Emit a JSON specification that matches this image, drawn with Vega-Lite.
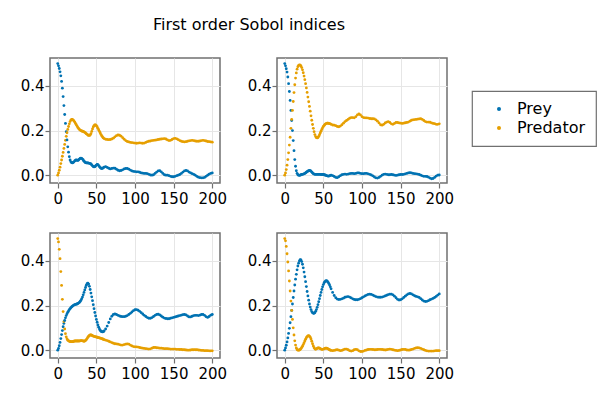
{
"$schema": "https://vega.github.io/schema/vega-lite/v6.json",
"padding": {"left": 19, "top": 17, "right": 5, "bottom": 5},
"title": {"text": "First order Sobol indices", "fontSize": 16, "font": "DejaVu Sans", "fontWeight": "normal", "color": "#000", "anchor": "middle", "dx": -59, "offset": 24},
"data": {"values": [
{"p":1,"t":0,"Prey":0.5,"Predator":0},{"p":1,"t":1,"Prey":0.49,"Predator":0.01},{"p":1,"t":2,"Prey":0.478,"Predator":0.022},{"p":1,"t":3,"Prey":0.463,"Predator":0.036},{"p":1,"t":4,"Prey":0.445,"Predator":0.052},{"p":1,"t":5,"Prey":0.42,"Predator":0.068},{"p":1,"t":6,"Prey":0.39,"Predator":0.085},{"p":1,"t":7,"Prey":0.352,"Predator":0.102},{"p":1,"t":8,"Prey":0.312,"Predator":0.12},{"p":1,"t":9,"Prey":0.272,"Predator":0.138},{"p":1,"t":10,"Prey":0.232,"Predator":0.156},{"p":1,"t":11,"Prey":0.195,"Predator":0.174},{"p":1,"t":12,"Prey":0.158,"Predator":0.19},{"p":1,"t":13,"Prey":0.127,"Predator":0.205},{"p":1,"t":14,"Prey":0.103,"Predator":0.218},{"p":1,"t":15,"Prey":0.083,"Predator":0.23},{"p":1,"t":16,"Prey":0.068,"Predator":0.24},{"p":1,"t":17,"Prey":0.06,"Predator":0.247},{"p":1,"t":18,"Prey":0.056,"Predator":0.25},{"p":1,"t":19,"Prey":0.055,"Predator":0.25},{"p":1,"t":20,"Prey":0.057,"Predator":0.247},{"p":1,"t":21,"Prey":0.06,"Predator":0.243},{"p":1,"t":22,"Prey":0.064,"Predator":0.238},{"p":1,"t":23,"Prey":0.067,"Predator":0.232},{"p":1,"t":24,"Prey":0.068,"Predator":0.226},{"p":1,"t":25,"Prey":0.067,"Predator":0.22},{"p":1,"t":26,"Prey":0.066,"Predator":0.214},{"p":1,"t":27,"Prey":0.068,"Predator":0.209},{"p":1,"t":28,"Prey":0.072,"Predator":0.205},{"p":1,"t":29,"Prey":0.075,"Predator":0.202},{"p":1,"t":30,"Prey":0.076,"Predator":0.2},{"p":1,"t":31,"Prey":0.075,"Predator":0.198},{"p":1,"t":32,"Prey":0.072,"Predator":0.197},{"p":1,"t":33,"Prey":0.068,"Predator":0.196},{"p":1,"t":34,"Prey":0.063,"Predator":0.194},{"p":1,"t":35,"Prey":0.059,"Predator":0.192},{"p":1,"t":36,"Prey":0.056,"Predator":0.189},{"p":1,"t":37,"Prey":0.055,"Predator":0.186},{"p":1,"t":38,"Prey":0.055,"Predator":0.183},{"p":1,"t":39,"Prey":0.055,"Predator":0.18},{"p":1,"t":40,"Prey":0.054,"Predator":0.178},{"p":1,"t":41,"Prey":0.053,"Predator":0.178},{"p":1,"t":42,"Prey":0.052,"Predator":0.18},{"p":1,"t":43,"Prey":0.05,"Predator":0.186},{"p":1,"t":44,"Prey":0.046,"Predator":0.196},{"p":1,"t":45,"Prey":0.042,"Predator":0.207},{"p":1,"t":46,"Prey":0.039,"Predator":0.216},{"p":1,"t":47,"Prey":0.037,"Predator":0.222},{"p":1,"t":48,"Prey":0.038,"Predator":0.225},{"p":1,"t":49,"Prey":0.041,"Predator":0.225},{"p":1,"t":50,"Prey":0.045,"Predator":0.222},{"p":1,"t":51,"Prey":0.048,"Predator":0.217},{"p":1,"t":52,"Prey":0.047,"Predator":0.21},{"p":1,"t":53,"Prey":0.043,"Predator":0.203},{"p":1,"t":54,"Prey":0.038,"Predator":0.196},{"p":1,"t":55,"Prey":0.034,"Predator":0.189},{"p":1,"t":56,"Prey":0.031,"Predator":0.182},{"p":1,"t":57,"Prey":0.03,"Predator":0.176},{"p":1,"t":58,"Prey":0.031,"Predator":0.171},{"p":1,"t":59,"Prey":0.033,"Predator":0.167},{"p":1,"t":60,"Prey":0.036,"Predator":0.164},{"p":1,"t":62,"Prey":0.038,"Predator":0.161},{"p":1,"t":64,"Prey":0.035,"Predator":0.16},{"p":1,"t":66,"Prey":0.031,"Predator":0.159},{"p":1,"t":68,"Prey":0.028,"Predator":0.16},{"p":1,"t":70,"Prey":0.03,"Predator":0.162},{"p":1,"t":72,"Prey":0.032,"Predator":0.166},{"p":1,"t":74,"Prey":0.031,"Predator":0.172},{"p":1,"t":76,"Prey":0.027,"Predator":0.177},{"p":1,"t":78,"Prey":0.022,"Predator":0.18},{"p":1,"t":80,"Prey":0.02,"Predator":0.179},{"p":1,"t":82,"Prey":0.021,"Predator":0.175},{"p":1,"t":84,"Prey":0.024,"Predator":0.168},{"p":1,"t":86,"Prey":0.028,"Predator":0.161},{"p":1,"t":88,"Prey":0.03,"Predator":0.155},{"p":1,"t":90,"Prey":0.03,"Predator":0.151},{"p":1,"t":92,"Prey":0.027,"Predator":0.149},{"p":1,"t":94,"Prey":0.023,"Predator":0.147},{"p":1,"t":96,"Prey":0.019,"Predator":0.146},{"p":1,"t":98,"Prey":0.017,"Predator":0.145},{"p":1,"t":100,"Prey":0.016,"Predator":0.144},{"p":1,"t":102,"Prey":0.015,"Predator":0.143},{"p":1,"t":104,"Prey":0.015,"Predator":0.144},{"p":1,"t":106,"Prey":0.013,"Predator":0.145},{"p":1,"t":108,"Prey":0.01,"Predator":0.144},{"p":1,"t":110,"Prey":0.009,"Predator":0.143},{"p":1,"t":112,"Prey":0.008,"Predator":0.144},{"p":1,"t":114,"Prey":0.008,"Predator":0.147},{"p":1,"t":116,"Prey":0.007,"Predator":0.15},{"p":1,"t":118,"Prey":0.004,"Predator":0.152},{"p":1,"t":120,"Prey":0.001,"Predator":0.153},{"p":1,"t":122,"Prey":0,"Predator":0.155},{"p":1,"t":124,"Prey":0.002,"Predator":0.156},{"p":1,"t":126,"Prey":0.008,"Predator":0.157},{"p":1,"t":128,"Prey":0.014,"Predator":0.158},{"p":1,"t":130,"Prey":0.019,"Predator":0.16},{"p":1,"t":132,"Prey":0.02,"Predator":0.161},{"p":1,"t":134,"Prey":0.015,"Predator":0.162},{"p":1,"t":136,"Prey":0.008,"Predator":0.163},{"p":1,"t":138,"Prey":0.002,"Predator":0.164},{"p":1,"t":140,"Prey":0,"Predator":0.162},{"p":1,"t":142,"Prey":0,"Predator":0.158},{"p":1,"t":144,"Prey":-0.002,"Predator":0.155},{"p":1,"t":146,"Prey":-0.005,"Predator":0.156},{"p":1,"t":148,"Prey":-0.007,"Predator":0.16},{"p":1,"t":150,"Prey":-0.007,"Predator":0.164},{"p":1,"t":152,"Prey":-0.005,"Predator":0.165},{"p":1,"t":154,"Prey":-0.002,"Predator":0.163},{"p":1,"t":156,"Prey":0,"Predator":0.159},{"p":1,"t":158,"Prey":0.003,"Predator":0.155},{"p":1,"t":160,"Prey":0.008,"Predator":0.152},{"p":1,"t":162,"Prey":0.014,"Predator":0.15},{"p":1,"t":164,"Prey":0.019,"Predator":0.149},{"p":1,"t":166,"Prey":0.021,"Predator":0.15},{"p":1,"t":168,"Prey":0.019,"Predator":0.152},{"p":1,"t":170,"Prey":0.014,"Predator":0.154},{"p":1,"t":172,"Prey":0.01,"Predator":0.155},{"p":1,"t":174,"Prey":0.007,"Predator":0.156},{"p":1,"t":176,"Prey":0.004,"Predator":0.155},{"p":1,"t":178,"Prey":0,"Predator":0.153},{"p":1,"t":180,"Prey":-0.005,"Predator":0.152},{"p":1,"t":182,"Prey":-0.009,"Predator":0.152},{"p":1,"t":184,"Prey":-0.011,"Predator":0.153},{"p":1,"t":186,"Prey":-0.012,"Predator":0.155},{"p":1,"t":188,"Prey":-0.012,"Predator":0.156},{"p":1,"t":190,"Prey":-0.01,"Predator":0.155},{"p":1,"t":192,"Prey":-0.005,"Predator":0.153},{"p":1,"t":194,"Prey":0,"Predator":0.151},{"p":1,"t":196,"Prey":0.005,"Predator":0.15},{"p":1,"t":198,"Prey":0.008,"Predator":0.149},{"p":1,"t":200,"Prey":0.01,"Predator":0.148},
{"p":2,"t":0,"Prey":0.5,"Predator":0},{"p":2,"t":1,"Prey":0.49,"Predator":0.01},{"p":2,"t":2,"Prey":0.477,"Predator":0.025},{"p":2,"t":3,"Prey":0.462,"Predator":0.045},{"p":2,"t":4,"Prey":0.44,"Predator":0.07},{"p":2,"t":5,"Prey":0.41,"Predator":0.1},{"p":2,"t":6,"Prey":0.375,"Predator":0.135},{"p":2,"t":7,"Prey":0.335,"Predator":0.17},{"p":2,"t":8,"Prey":0.29,"Predator":0.21},{"p":2,"t":9,"Prey":0.245,"Predator":0.25},{"p":2,"t":10,"Prey":0.2,"Predator":0.29},{"p":2,"t":11,"Prey":0.155,"Predator":0.33},{"p":2,"t":12,"Prey":0.11,"Predator":0.37},{"p":2,"t":13,"Prey":0.07,"Predator":0.405},{"p":2,"t":14,"Prey":0.04,"Predator":0.435},{"p":2,"t":15,"Prey":0.02,"Predator":0.458},{"p":2,"t":16,"Prey":0.008,"Predator":0.475},{"p":2,"t":17,"Prey":0.002,"Predator":0.486},{"p":2,"t":18,"Prey":0,"Predator":0.492},{"p":2,"t":19,"Prey":-0.001,"Predator":0.494},{"p":2,"t":20,"Prey":0,"Predator":0.493},{"p":2,"t":21,"Prey":0.002,"Predator":0.489},{"p":2,"t":22,"Prey":0.003,"Predator":0.482},{"p":2,"t":23,"Prey":0.004,"Predator":0.472},{"p":2,"t":24,"Prey":0.005,"Predator":0.459},{"p":2,"t":25,"Prey":0.006,"Predator":0.444},{"p":2,"t":26,"Prey":0.008,"Predator":0.428},{"p":2,"t":27,"Prey":0.01,"Predator":0.41},{"p":2,"t":28,"Prey":0.013,"Predator":0.391},{"p":2,"t":29,"Prey":0.016,"Predator":0.371},{"p":2,"t":30,"Prey":0.018,"Predator":0.35},{"p":2,"t":31,"Prey":0.02,"Predator":0.329},{"p":2,"t":32,"Prey":0.021,"Predator":0.308},{"p":2,"t":33,"Prey":0.02,"Predator":0.287},{"p":2,"t":34,"Prey":0.018,"Predator":0.266},{"p":2,"t":35,"Prey":0.014,"Predator":0.246},{"p":2,"t":36,"Prey":0.01,"Predator":0.227},{"p":2,"t":37,"Prey":0.007,"Predator":0.21},{"p":2,"t":38,"Prey":0.005,"Predator":0.195},{"p":2,"t":39,"Prey":0.004,"Predator":0.182},{"p":2,"t":40,"Prey":0.004,"Predator":0.173},{"p":2,"t":41,"Prey":0.004,"Predator":0.168},{"p":2,"t":42,"Prey":0.004,"Predator":0.167},{"p":2,"t":43,"Prey":0.004,"Predator":0.169},{"p":2,"t":44,"Prey":0.004,"Predator":0.174},{"p":2,"t":45,"Prey":0.004,"Predator":0.181},{"p":2,"t":46,"Prey":0.004,"Predator":0.189},{"p":2,"t":47,"Prey":0.003,"Predator":0.197},{"p":2,"t":48,"Prey":0.003,"Predator":0.205},{"p":2,"t":49,"Prey":0.003,"Predator":0.212},{"p":2,"t":50,"Prey":0.003,"Predator":0.218},{"p":2,"t":51,"Prey":0.002,"Predator":0.223},{"p":2,"t":52,"Prey":0.001,"Predator":0.227},{"p":2,"t":53,"Prey":0,"Predator":0.23},{"p":2,"t":54,"Prey":-0.002,"Predator":0.232},{"p":2,"t":55,"Prey":-0.003,"Predator":0.233},{"p":2,"t":56,"Prey":-0.004,"Predator":0.233},{"p":2,"t":57,"Prey":-0.004,"Predator":0.232},{"p":2,"t":58,"Prey":-0.003,"Predator":0.231},{"p":2,"t":59,"Prey":-0.001,"Predator":0.23},{"p":2,"t":60,"Prey":0,"Predator":0.228},{"p":2,"t":62,"Prey":-0.002,"Predator":0.225},{"p":2,"t":64,"Prey":-0.006,"Predator":0.224},{"p":2,"t":66,"Prey":-0.01,"Predator":0.222},{"p":2,"t":68,"Prey":-0.011,"Predator":0.218},{"p":2,"t":70,"Prey":-0.007,"Predator":0.217},{"p":2,"t":72,"Prey":-0.002,"Predator":0.22},{"p":2,"t":74,"Prey":0.002,"Predator":0.226},{"p":2,"t":76,"Prey":0.004,"Predator":0.233},{"p":2,"t":78,"Prey":0.005,"Predator":0.24},{"p":2,"t":80,"Prey":0.004,"Predator":0.245},{"p":2,"t":82,"Prey":0.005,"Predator":0.25},{"p":2,"t":84,"Prey":0.007,"Predator":0.255},{"p":2,"t":86,"Prey":0.008,"Predator":0.258},{"p":2,"t":88,"Prey":0.008,"Predator":0.258},{"p":2,"t":90,"Prey":0.007,"Predator":0.257},{"p":2,"t":92,"Prey":0.008,"Predator":0.262},{"p":2,"t":94,"Prey":0.01,"Predator":0.27},{"p":2,"t":96,"Prey":0.01,"Predator":0.274},{"p":2,"t":98,"Prey":0.008,"Predator":0.27},{"p":2,"t":100,"Prey":0.007,"Predator":0.262},{"p":2,"t":102,"Prey":0.007,"Predator":0.258},{"p":2,"t":104,"Prey":0.008,"Predator":0.257},{"p":2,"t":106,"Prey":0.008,"Predator":0.257},{"p":2,"t":108,"Prey":0.006,"Predator":0.256},{"p":2,"t":110,"Prey":0.004,"Predator":0.254},{"p":2,"t":112,"Prey":0.001,"Predator":0.253},{"p":2,"t":114,"Prey":-0.003,"Predator":0.253},{"p":2,"t":116,"Prey":-0.008,"Predator":0.252},{"p":2,"t":118,"Prey":-0.012,"Predator":0.248},{"p":2,"t":120,"Prey":-0.013,"Predator":0.242},{"p":2,"t":122,"Prey":-0.01,"Predator":0.234},{"p":2,"t":124,"Prey":-0.005,"Predator":0.226},{"p":2,"t":126,"Prey":0,"Predator":0.224},{"p":2,"t":128,"Prey":0.004,"Predator":0.228},{"p":2,"t":130,"Prey":0.005,"Predator":0.234},{"p":2,"t":132,"Prey":0.004,"Predator":0.238},{"p":2,"t":134,"Prey":0.002,"Predator":0.24},{"p":2,"t":136,"Prey":0.002,"Predator":0.236},{"p":2,"t":138,"Prey":0.003,"Predator":0.23},{"p":2,"t":140,"Prey":0.002,"Predator":0.228},{"p":2,"t":142,"Prey":0,"Predator":0.232},{"p":2,"t":144,"Prey":-0.001,"Predator":0.236},{"p":2,"t":146,"Prey":0,"Predator":0.236},{"p":2,"t":148,"Prey":0.002,"Predator":0.234},{"p":2,"t":150,"Prey":0.003,"Predator":0.233},{"p":2,"t":152,"Prey":0.003,"Predator":0.232},{"p":2,"t":154,"Prey":0.004,"Predator":0.233},{"p":2,"t":156,"Prey":0.006,"Predator":0.235},{"p":2,"t":158,"Prey":0.008,"Predator":0.236},{"p":2,"t":160,"Prey":0.01,"Predator":0.238},{"p":2,"t":162,"Prey":0.011,"Predator":0.242},{"p":2,"t":164,"Prey":0.01,"Predator":0.246},{"p":2,"t":166,"Prey":0.008,"Predator":0.248},{"p":2,"t":168,"Prey":0.007,"Predator":0.249},{"p":2,"t":170,"Prey":0.006,"Predator":0.25},{"p":2,"t":172,"Prey":0.005,"Predator":0.251},{"p":2,"t":174,"Prey":0.003,"Predator":0.252},{"p":2,"t":176,"Prey":0,"Predator":0.253},{"p":2,"t":178,"Prey":-0.003,"Predator":0.25},{"p":2,"t":180,"Prey":-0.005,"Predator":0.245},{"p":2,"t":182,"Prey":-0.005,"Predator":0.24},{"p":2,"t":184,"Prey":-0.006,"Predator":0.238},{"p":2,"t":186,"Prey":-0.009,"Predator":0.238},{"p":2,"t":188,"Prey":-0.013,"Predator":0.237},{"p":2,"t":190,"Prey":-0.016,"Predator":0.234},{"p":2,"t":192,"Prey":-0.015,"Predator":0.232},{"p":2,"t":194,"Prey":-0.01,"Predator":0.231},{"p":2,"t":196,"Prey":-0.004,"Predator":0.228},{"p":2,"t":198,"Prey":0,"Predator":0.228},{"p":2,"t":200,"Prey":0.001,"Predator":0.23},
{"p":3,"t":0,"Prey":0,"Predator":0.5},{"p":3,"t":1,"Prey":0.008,"Predator":0.485},{"p":3,"t":2,"Prey":0.02,"Predator":0.452},{"p":3,"t":3,"Prey":0.035,"Predator":0.41},{"p":3,"t":4,"Prey":0.052,"Predator":0.352},{"p":3,"t":5,"Prey":0.07,"Predator":0.29},{"p":3,"t":6,"Prey":0.088,"Predator":0.228},{"p":3,"t":7,"Prey":0.105,"Predator":0.173},{"p":3,"t":8,"Prey":0.12,"Predator":0.128},{"p":3,"t":9,"Prey":0.133,"Predator":0.095},{"p":3,"t":10,"Prey":0.145,"Predator":0.074},{"p":3,"t":11,"Prey":0.155,"Predator":0.06},{"p":3,"t":12,"Prey":0.163,"Predator":0.051},{"p":3,"t":13,"Prey":0.17,"Predator":0.045},{"p":3,"t":14,"Prey":0.176,"Predator":0.042},{"p":3,"t":15,"Prey":0.181,"Predator":0.04},{"p":3,"t":16,"Prey":0.186,"Predator":0.039},{"p":3,"t":17,"Prey":0.19,"Predator":0.038},{"p":3,"t":18,"Prey":0.194,"Predator":0.038},{"p":3,"t":19,"Prey":0.197,"Predator":0.038},{"p":3,"t":20,"Prey":0.2,"Predator":0.039},{"p":3,"t":21,"Prey":0.202,"Predator":0.04},{"p":3,"t":22,"Prey":0.204,"Predator":0.041},{"p":3,"t":23,"Prey":0.205,"Predator":0.041},{"p":3,"t":24,"Prey":0.206,"Predator":0.041},{"p":3,"t":25,"Prey":0.207,"Predator":0.041},{"p":3,"t":26,"Prey":0.209,"Predator":0.041},{"p":3,"t":27,"Prey":0.211,"Predator":0.041},{"p":3,"t":28,"Prey":0.214,"Predator":0.041},{"p":3,"t":29,"Prey":0.218,"Predator":0.042},{"p":3,"t":30,"Prey":0.223,"Predator":0.043},{"p":3,"t":31,"Prey":0.23,"Predator":0.043},{"p":3,"t":32,"Prey":0.238,"Predator":0.042},{"p":3,"t":33,"Prey":0.248,"Predator":0.041},{"p":3,"t":34,"Prey":0.259,"Predator":0.04},{"p":3,"t":35,"Prey":0.27,"Predator":0.041},{"p":3,"t":36,"Prey":0.281,"Predator":0.043},{"p":3,"t":37,"Prey":0.291,"Predator":0.047},{"p":3,"t":38,"Prey":0.298,"Predator":0.052},{"p":3,"t":39,"Prey":0.3,"Predator":0.058},{"p":3,"t":40,"Prey":0.296,"Predator":0.063},{"p":3,"t":41,"Prey":0.286,"Predator":0.066},{"p":3,"t":42,"Prey":0.272,"Predator":0.068},{"p":3,"t":43,"Prey":0.256,"Predator":0.068},{"p":3,"t":44,"Prey":0.239,"Predator":0.067},{"p":3,"t":45,"Prey":0.222,"Predator":0.065},{"p":3,"t":46,"Prey":0.204,"Predator":0.063},{"p":3,"t":47,"Prey":0.186,"Predator":0.062},{"p":3,"t":48,"Prey":0.169,"Predator":0.061},{"p":3,"t":49,"Prey":0.153,"Predator":0.06},{"p":3,"t":50,"Prey":0.138,"Predator":0.059},{"p":3,"t":51,"Prey":0.125,"Predator":0.058},{"p":3,"t":52,"Prey":0.113,"Predator":0.057},{"p":3,"t":53,"Prey":0.103,"Predator":0.056},{"p":3,"t":54,"Prey":0.095,"Predator":0.055},{"p":3,"t":55,"Prey":0.089,"Predator":0.054},{"p":3,"t":56,"Prey":0.085,"Predator":0.053},{"p":3,"t":57,"Prey":0.083,"Predator":0.052},{"p":3,"t":58,"Prey":0.082,"Predator":0.05},{"p":3,"t":59,"Prey":0.083,"Predator":0.049},{"p":3,"t":60,"Prey":0.086,"Predator":0.047},{"p":3,"t":62,"Prey":0.095,"Predator":0.045},{"p":3,"t":64,"Prey":0.108,"Predator":0.043},{"p":3,"t":66,"Prey":0.124,"Predator":0.04},{"p":3,"t":68,"Prey":0.14,"Predator":0.037},{"p":3,"t":70,"Prey":0.152,"Predator":0.034},{"p":3,"t":72,"Prey":0.16,"Predator":0.031},{"p":3,"t":74,"Prey":0.162,"Predator":0.029},{"p":3,"t":76,"Prey":0.16,"Predator":0.028},{"p":3,"t":78,"Prey":0.156,"Predator":0.027},{"p":3,"t":80,"Prey":0.153,"Predator":0.025},{"p":3,"t":82,"Prey":0.151,"Predator":0.023},{"p":3,"t":84,"Prey":0.15,"Predator":0.023},{"p":3,"t":86,"Prey":0.15,"Predator":0.025},{"p":3,"t":88,"Prey":0.152,"Predator":0.027},{"p":3,"t":90,"Prey":0.155,"Predator":0.028},{"p":3,"t":92,"Prey":0.16,"Predator":0.027},{"p":3,"t":94,"Prey":0.165,"Predator":0.023},{"p":3,"t":96,"Prey":0.171,"Predator":0.019},{"p":3,"t":98,"Prey":0.177,"Predator":0.016},{"p":3,"t":100,"Prey":0.181,"Predator":0.015},{"p":3,"t":102,"Prey":0.182,"Predator":0.015},{"p":3,"t":104,"Prey":0.179,"Predator":0.014},{"p":3,"t":106,"Prey":0.174,"Predator":0.012},{"p":3,"t":108,"Prey":0.168,"Predator":0.01},{"p":3,"t":110,"Prey":0.162,"Predator":0.009},{"p":3,"t":112,"Prey":0.156,"Predator":0.008},{"p":3,"t":114,"Prey":0.151,"Predator":0.007},{"p":3,"t":116,"Prey":0.146,"Predator":0.006},{"p":3,"t":118,"Prey":0.143,"Predator":0.005},{"p":3,"t":120,"Prey":0.143,"Predator":0.006},{"p":3,"t":122,"Prey":0.146,"Predator":0.009},{"p":3,"t":124,"Prey":0.151,"Predator":0.012},{"p":3,"t":126,"Prey":0.156,"Predator":0.012},{"p":3,"t":128,"Prey":0.16,"Predator":0.011},{"p":3,"t":130,"Prey":0.161,"Predator":0.01},{"p":3,"t":132,"Prey":0.158,"Predator":0.009},{"p":3,"t":134,"Prey":0.153,"Predator":0.009},{"p":3,"t":136,"Prey":0.148,"Predator":0.008},{"p":3,"t":138,"Prey":0.144,"Predator":0.007},{"p":3,"t":140,"Prey":0.142,"Predator":0.007},{"p":3,"t":142,"Prey":0.141,"Predator":0.007},{"p":3,"t":144,"Prey":0.141,"Predator":0.006},{"p":3,"t":146,"Prey":0.143,"Predator":0.005},{"p":3,"t":148,"Prey":0.145,"Predator":0.005},{"p":3,"t":150,"Prey":0.147,"Predator":0.005},{"p":3,"t":152,"Prey":0.149,"Predator":0.005},{"p":3,"t":154,"Prey":0.151,"Predator":0.004},{"p":3,"t":156,"Prey":0.153,"Predator":0.004},{"p":3,"t":158,"Prey":0.155,"Predator":0.003},{"p":3,"t":160,"Prey":0.157,"Predator":0.003},{"p":3,"t":162,"Prey":0.159,"Predator":0.002},{"p":3,"t":164,"Prey":0.16,"Predator":0.002},{"p":3,"t":166,"Prey":0.158,"Predator":0.001},{"p":3,"t":168,"Prey":0.153,"Predator":0},{"p":3,"t":170,"Prey":0.149,"Predator":0},{"p":3,"t":172,"Prey":0.149,"Predator":0.001},{"p":3,"t":174,"Prey":0.152,"Predator":0.002},{"p":3,"t":176,"Prey":0.155,"Predator":0.002},{"p":3,"t":178,"Prey":0.156,"Predator":0.002},{"p":3,"t":180,"Prey":0.156,"Predator":0.002},{"p":3,"t":182,"Prey":0.155,"Predator":0.001},{"p":3,"t":184,"Prey":0.157,"Predator":0},{"p":3,"t":186,"Prey":0.16,"Predator":-0.001},{"p":3,"t":188,"Prey":0.16,"Predator":-0.001},{"p":3,"t":190,"Prey":0.156,"Predator":-0.002},{"p":3,"t":192,"Prey":0.15,"Predator":-0.002},{"p":3,"t":194,"Prey":0.147,"Predator":-0.002},{"p":3,"t":196,"Prey":0.151,"Predator":-0.003},{"p":3,"t":198,"Prey":0.157,"Predator":-0.003},{"p":3,"t":200,"Prey":0.16,"Predator":-0.003},
{"p":4,"t":0,"Prey":0,"Predator":0.5},{"p":4,"t":1,"Prey":0.01,"Predator":0.49},{"p":4,"t":2,"Prey":0.022,"Predator":0.465},{"p":4,"t":3,"Prey":0.037,"Predator":0.432},{"p":4,"t":4,"Prey":0.055,"Predator":0.395},{"p":4,"t":5,"Prey":0.075,"Predator":0.355},{"p":4,"t":6,"Prey":0.098,"Predator":0.31},{"p":4,"t":7,"Prey":0.123,"Predator":0.265},{"p":4,"t":8,"Prey":0.15,"Predator":0.22},{"p":4,"t":9,"Prey":0.178,"Predator":0.178},{"p":4,"t":10,"Prey":0.207,"Predator":0.138},{"p":4,"t":11,"Prey":0.236,"Predator":0.1},{"p":4,"t":12,"Prey":0.265,"Predator":0.068},{"p":4,"t":13,"Prey":0.292,"Predator":0.042},{"p":4,"t":14,"Prey":0.318,"Predator":0.023},{"p":4,"t":15,"Prey":0.34,"Predator":0.01},{"p":4,"t":16,"Prey":0.36,"Predator":0.003},{"p":4,"t":17,"Prey":0.377,"Predator":0},{"p":4,"t":18,"Prey":0.39,"Predator":0},{"p":4,"t":19,"Prey":0.4,"Predator":0.001},{"p":4,"t":20,"Prey":0.405,"Predator":0.003},{"p":4,"t":21,"Prey":0.404,"Predator":0.007},{"p":4,"t":22,"Prey":0.397,"Predator":0.012},{"p":4,"t":23,"Prey":0.385,"Predator":0.018},{"p":4,"t":24,"Prey":0.369,"Predator":0.025},{"p":4,"t":25,"Prey":0.35,"Predator":0.033},{"p":4,"t":26,"Prey":0.329,"Predator":0.041},{"p":4,"t":27,"Prey":0.307,"Predator":0.049},{"p":4,"t":28,"Prey":0.285,"Predator":0.056},{"p":4,"t":29,"Prey":0.263,"Predator":0.061},{"p":4,"t":30,"Prey":0.243,"Predator":0.064},{"p":4,"t":31,"Prey":0.224,"Predator":0.065},{"p":4,"t":32,"Prey":0.207,"Predator":0.063},{"p":4,"t":33,"Prey":0.193,"Predator":0.058},{"p":4,"t":34,"Prey":0.182,"Predator":0.05},{"p":4,"t":35,"Prey":0.173,"Predator":0.04},{"p":4,"t":36,"Prey":0.168,"Predator":0.029},{"p":4,"t":37,"Prey":0.165,"Predator":0.019},{"p":4,"t":38,"Prey":0.165,"Predator":0.011},{"p":4,"t":39,"Prey":0.168,"Predator":0.006},{"p":4,"t":40,"Prey":0.174,"Predator":0.004},{"p":4,"t":41,"Prey":0.182,"Predator":0.006},{"p":4,"t":42,"Prey":0.192,"Predator":0.008},{"p":4,"t":43,"Prey":0.204,"Predator":0.01},{"p":4,"t":44,"Prey":0.217,"Predator":0.01},{"p":4,"t":45,"Prey":0.231,"Predator":0.009},{"p":4,"t":46,"Prey":0.245,"Predator":0.007},{"p":4,"t":47,"Prey":0.259,"Predator":0.005},{"p":4,"t":48,"Prey":0.272,"Predator":0.004},{"p":4,"t":49,"Prey":0.284,"Predator":0.004},{"p":4,"t":50,"Prey":0.294,"Predator":0.005},{"p":4,"t":51,"Prey":0.302,"Predator":0.006},{"p":4,"t":52,"Prey":0.307,"Predator":0.008},{"p":4,"t":53,"Prey":0.31,"Predator":0.009},{"p":4,"t":54,"Prey":0.311,"Predator":0.009},{"p":4,"t":55,"Prey":0.309,"Predator":0.008},{"p":4,"t":56,"Prey":0.305,"Predator":0.006},{"p":4,"t":57,"Prey":0.299,"Predator":0.004},{"p":4,"t":58,"Prey":0.292,"Predator":0.002},{"p":4,"t":59,"Prey":0.284,"Predator":0},{"p":4,"t":60,"Prey":0.275,"Predator":-0.001},{"p":4,"t":62,"Prey":0.259,"Predator":-0.002},{"p":4,"t":64,"Prey":0.245,"Predator":-0.001},{"p":4,"t":66,"Prey":0.235,"Predator":0.001},{"p":4,"t":68,"Prey":0.229,"Predator":0.002},{"p":4,"t":70,"Prey":0.227,"Predator":0},{"p":4,"t":72,"Prey":0.228,"Predator":-0.002},{"p":4,"t":74,"Prey":0.23,"Predator":-0.001},{"p":4,"t":76,"Prey":0.233,"Predator":0.002},{"p":4,"t":78,"Prey":0.237,"Predator":0.005},{"p":4,"t":80,"Prey":0.239,"Predator":0.005},{"p":4,"t":82,"Prey":0.24,"Predator":0.002},{"p":4,"t":84,"Prey":0.238,"Predator":-0.002},{"p":4,"t":86,"Prey":0.234,"Predator":-0.004},{"p":4,"t":88,"Prey":0.23,"Predator":-0.002},{"p":4,"t":90,"Prey":0.227,"Predator":0.002},{"p":4,"t":92,"Prey":0.226,"Predator":0.004},{"p":4,"t":94,"Prey":0.226,"Predator":0.002},{"p":4,"t":96,"Prey":0.228,"Predator":-0.003},{"p":4,"t":98,"Prey":0.231,"Predator":-0.006},{"p":4,"t":100,"Prey":0.235,"Predator":-0.006},{"p":4,"t":102,"Prey":0.239,"Predator":-0.004},{"p":4,"t":104,"Prey":0.243,"Predator":-0.001},{"p":4,"t":106,"Prey":0.247,"Predator":0.001},{"p":4,"t":108,"Prey":0.25,"Predator":0.003},{"p":4,"t":110,"Prey":0.251,"Predator":0.004},{"p":4,"t":112,"Prey":0.25,"Predator":0.004},{"p":4,"t":114,"Prey":0.247,"Predator":0.003},{"p":4,"t":116,"Prey":0.243,"Predator":0.002},{"p":4,"t":118,"Prey":0.24,"Predator":0.002},{"p":4,"t":120,"Prey":0.238,"Predator":0.003},{"p":4,"t":122,"Prey":0.237,"Predator":0.004},{"p":4,"t":124,"Prey":0.237,"Predator":0.004},{"p":4,"t":126,"Prey":0.238,"Predator":0.003},{"p":4,"t":128,"Prey":0.24,"Predator":0.002},{"p":4,"t":130,"Prey":0.243,"Predator":0.001},{"p":4,"t":132,"Prey":0.246,"Predator":0.002},{"p":4,"t":134,"Prey":0.249,"Predator":0.004},{"p":4,"t":136,"Prey":0.251,"Predator":0.005},{"p":4,"t":138,"Prey":0.251,"Predator":0.004},{"p":4,"t":140,"Prey":0.248,"Predator":0.002},{"p":4,"t":142,"Prey":0.242,"Predator":0},{"p":4,"t":144,"Prey":0.235,"Predator":-0.001},{"p":4,"t":146,"Prey":0.228,"Predator":-0.002},{"p":4,"t":148,"Prey":0.225,"Predator":-0.001},{"p":4,"t":150,"Prey":0.226,"Predator":0.001},{"p":4,"t":152,"Prey":0.23,"Predator":0.003},{"p":4,"t":154,"Prey":0.236,"Predator":0.004},{"p":4,"t":156,"Prey":0.242,"Predator":0.003},{"p":4,"t":158,"Prey":0.248,"Predator":0.001},{"p":4,"t":160,"Prey":0.252,"Predator":0},{"p":4,"t":162,"Prey":0.254,"Predator":0.001},{"p":4,"t":164,"Prey":0.252,"Predator":0.003},{"p":4,"t":166,"Prey":0.248,"Predator":0.005},{"p":4,"t":168,"Prey":0.244,"Predator":0.008},{"p":4,"t":170,"Prey":0.241,"Predator":0.01},{"p":4,"t":172,"Prey":0.239,"Predator":0.011},{"p":4,"t":174,"Prey":0.236,"Predator":0.01},{"p":4,"t":176,"Prey":0.231,"Predator":0.008},{"p":4,"t":178,"Prey":0.225,"Predator":0.005},{"p":4,"t":180,"Prey":0.22,"Predator":0.002},{"p":4,"t":182,"Prey":0.218,"Predator":-0.001},{"p":4,"t":184,"Prey":0.219,"Predator":-0.003},{"p":4,"t":186,"Prey":0.222,"Predator":-0.004},{"p":4,"t":188,"Prey":0.226,"Predator":-0.004},{"p":4,"t":190,"Prey":0.229,"Predator":-0.004},{"p":4,"t":192,"Prey":0.232,"Predator":-0.004},{"p":4,"t":194,"Prey":0.236,"Predator":-0.003},{"p":4,"t":196,"Prey":0.241,"Predator":-0.002},{"p":4,"t":198,"Prey":0.247,"Predator":-0.002},{"p":4,"t":200,"Prey":0.252,"Predator":-0.002}
]},
"transform": [{"fold": ["Prey", "Predator"], "as": ["series", "value"]}],
"facet": {"field": "p", "type": "ordinal", "header": {"title": null, "labels": false, "labelExpr": "''", "labelFontSize": 0, "labelPadding": 0}},
"columns": 2,
"bounds": "flush",
"spacing": {"row": 50, "column": 57},
"resolve": {"axis": {"x": "independent", "y": "independent"}},
"spec": {
  "width": 170,
  "height": 125,
  "mark": {"type": "circle", "size": 8, "opacity": 1},
  "encoding": {
    "x": {"field": "t", "type": "quantitative", "scale": {"domain": [-10, 210], "nice": false, "zero": false},
          "axis": {"values": [0, 50, 100, 150, 200], "title": null, "labelPadding": 3}},
    "y": {"field": "value", "type": "quantitative", "scale": {"domain": [-0.035, 0.525], "nice": false, "zero": false},
          "axis": {"values": [0, 0.2, 0.4], "format": ".1f", "title": null, "labelPadding": 1}},
    "color": {"field": "series", "type": "nominal",
              "scale": {"domain": ["Prey", "Predator"], "range": ["#0072B2", "#E69F00"]},
              "legend": {"title": null, "orient": "none", "legendX": 422, "legendY": 33}}
  }
},
"config": {
  "font": "DejaVu Sans",
  "header": {"labels": false, "title": null, "labelFontSize": 0, "labelPadding": 0},
  "view": {"stroke": "#707070", "strokeWidth": 1.5},
  "axis": {"grid": true, "gridColor": "#e6e6e6", "gridWidth": 1, "domain": false, "ticks": true, "tickColor": "#707070", "tickSize": 5, "tickWidth": 1.2,
           "labelFont": "DejaVu Sans", "labelFontSize": 15, "labelColor": "#000", "labelFlush": false, "labelOverlap": false},
  "legend": {"strokeColor": "#707070", "strokeWidth": 1.2, "padding": 10, "symbolOffset": 9, "symbolType": "circle", "symbolSize": 16,
             "symbolStrokeWidth": 0, "labelFont": "DejaVu Sans", "labelFontSize": 16, "labelColor": "#000", "labelOffset": 10, "rowPadding": 3, "fillColor": "#fff"}
}
}
